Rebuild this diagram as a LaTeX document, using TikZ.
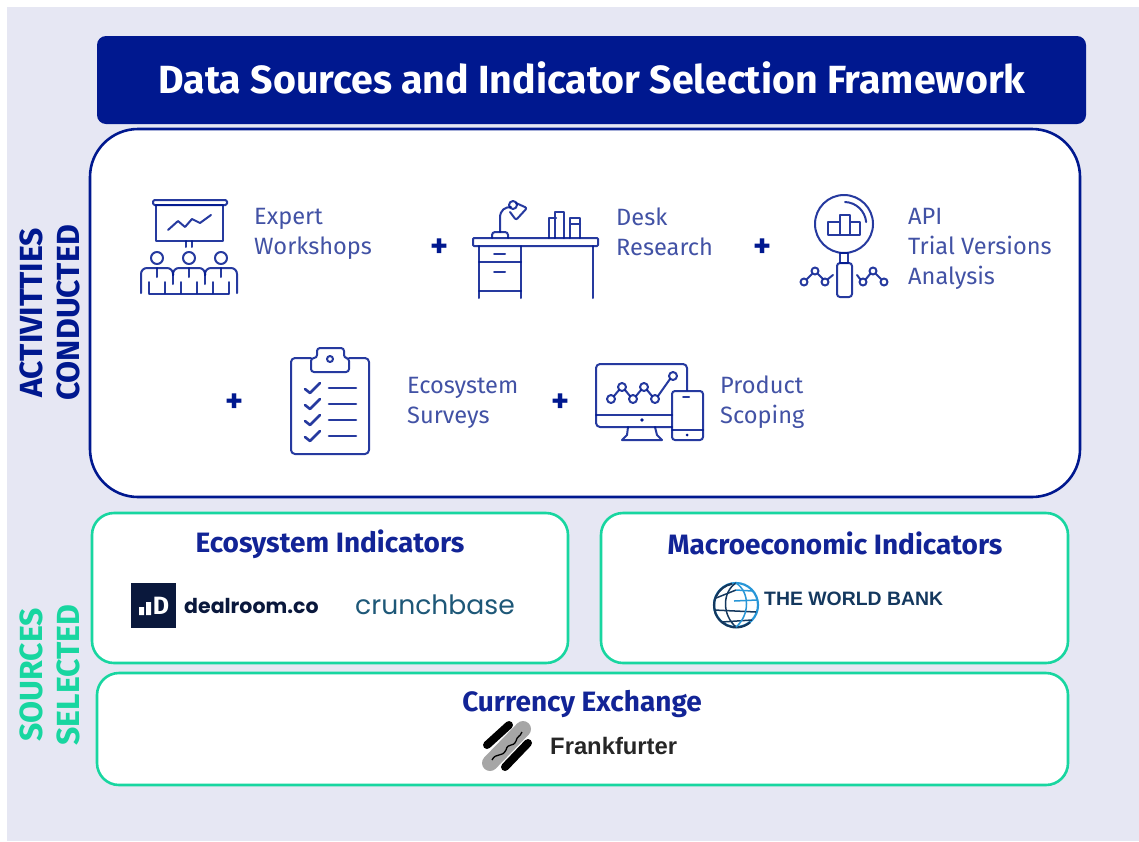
\documentclass[tikz,border=0pt]{standalone}
\usepackage{fontspec}
\usepackage{xcolor}
\setmainfont{Fira Sans}
\newfontfamily\logofont{Poppins}
\newfontfamily\bankfont{Liberation Sans}
\definecolor{navy}{RGB}{0,24,143}
\definecolor{headnavy}{RGB}{18,36,150}
\definecolor{softnavy}{RGB}{66,82,165}
\definecolor{mint}{RGB}{24,214,160}
\definecolor{lavender}{RGB}{230,231,243}
\definecolor{dealink}{RGB}{10,24,60}
\definecolor{crunch}{RGB}{30,88,120}
\definecolor{bankblue}{RGB}{20,56,94}
\definecolor{globeblue}{RGB}{40,150,215}
\tikzset{
  panel/.style={draw=navy,line width=2.6pt,fill=white,rounded corners=48pt},
  srcbox/.style={draw=mint,line width=2.6pt,fill=white,rounded corners=22pt},
  boxhead/.style={text=headnavy,font=\bfseries\fontsize{28}{32}\selectfont,inner sep=0pt},
  sidelabel/.style={rotate=90,align=center,font=\bfseries\fontsize{32}{37}\selectfont,inner sep=0pt},
  actlabel/.style={text=softnavy,align=left,anchor=west,inner sep=0pt,font=\fontsize{23.6}{30}\selectfont},
  plus/.style={text=navy,font=\bfseries\fontsize{34}{34}\selectfont,inner sep=0pt},
  icon/.style={draw=navy,line width=2pt,line cap=round,line join=round,opacity=.85},
}
\begin{document}
\begin{tikzpicture}[x=1pt,y=-1pt]
\useasboundingbox (0,0) rectangle (1139,841);
\fill[lavender] (7,7) rectangle (1139,841);

\node[fill=navy,rounded corners=9pt,minimum width=989pt,minimum height=88pt,inner sep=0pt] (title) at (591.5,80) {};
\node[text=white,inner sep=0pt,font=\bfseries\fontsize{39.3}{42}\selectfont] (titletext) at (592,78) {Data Sources and Indicator Selection Framework};
\node[panel,minimum width=990pt,minimum height=368pt] (activities) at (585,313) {};
\node[srcbox,minimum width=476pt,minimum height=150pt] (ecobox) at (330,588) {};
\node[srcbox,minimum width=467pt,minimum height=150pt] (macrobox) at (834.5,588) {};
\node[srcbox,minimum width=971pt,minimum height=112pt] (fxbox) at (582.5,729) {};

\node[sidelabel,text=navy] (actside) at (50,313) {ACTIVITTIES\\CONDUCTED};
\node[sidelabel,text=mint] (srcside) at (50,675) {SOURCES\\SELECTED};

\node[actlabel] (expert) at (254,234) {Expert\\Workshops};
\node[actlabel] (desk) at (616,231.5) {Desk\\Research};
\node[actlabel] (api) at (908,248.5) {API\\Trial Versions\\Analysis};
\node[actlabel] (survey) at (407,403) {Ecosystem\\Surveys};
\node[actlabel] (scoping) at (720,402.5) {Product\\Scoping};
\node[plus] (plusa) at (440,248) {+};
\node[plus] (plusb) at (763,248) {+};
\node[plus] (plusc) at (235,403) {+};
\node[plus] (plusd) at (561,403) {+};

\node[boxhead] (ecohead) at (330,544) {Ecosystem Indicators};
\node[boxhead] (macrohead) at (835,543) {Macroeconomic Indicators};
\node[boxhead] (fxhead) at (582,704) {Currency Exchange};

% workshop icon
\draw[icon,rounded corners=1.5pt] (153,200) rectangle (227,205);
\draw[icon] (156,205) rectangle (223,241);
\draw[icon] (168,230) -- (178,221) -- (185,227) -- (192,219) -- (200,223) -- (211,215);
\draw[icon] (186,241) -- (186,247) (192,241) -- (192,247);
\foreach \hx in {157,189,221} {
  \draw[icon] (\hx,258) circle (6pt);
  \draw[icon] (\hx-8,293) -- (\hx-8,282) (\hx+8,293) -- (\hx+8,282);
  \draw[icon] (\hx,268) -- (\hx,277);
}
\draw[icon,rounded corners=6pt] (141,293) -- (141,268) -- (173,268) -- (173,275);
\draw[icon,rounded corners=6pt] (173,275) -- (173,268) -- (205,268) -- (205,275);
\draw[icon,rounded corners=6pt] (205,275) -- (205,268) -- (237,268) -- (237,293);
\draw[icon] (149,294) -- (229,294);
\draw[icon] (173,275) -- (173,284) (205,275) -- (205,284);

% desk icon
\draw[icon,rounded corners=1pt] (473,238) rectangle (598,246);
\draw[icon] (479,246) -- (479,298) (521,246) -- (521,298) (593,246) -- (593,298);
\draw[icon] (479,262) -- (521,262) (479,291) -- (521,291);
\draw[icon] (494,254) -- (505,254) (494,272) -- (505,272);
\draw[icon,rounded corners=3pt] (492,238) -- (492,232) -- (508,232) -- (508,238);
\draw[icon] (500,232) -- (500,218) .. controls (500,210) and (505,207) .. (511,207);
\draw[icon] (513,205) circle (4pt);
\draw[icon,rounded corners=2pt] (516,203) -- (527,208) -- (516,220) -- (510,212);
\draw[icon] (549,238) -- (549,218) -- (556,218) (555,238) -- (555,212) -- (564,212) -- (564,238);
\draw[icon] (570,238) -- (570,218) -- (580,218) -- (580,238) (570,224) -- (580,224);

% magnifier icon
\draw[icon] (844,224) circle (29pt);
\draw[icon] (845,202) arc[start angle=88,end angle=5,radius=22pt];
\draw[icon] (828,222) rectangle (840,235) (840,215) rectangle (850,235) (850,222) rectangle (860,235);
\draw[icon] (840,253) rectangle (848,263);
\draw[icon,rounded corners=3pt] (837,263) rectangle (852,297);
\foreach \cx/\cy in {804/282,815/271,825/282,863/282,873/271,884/282}
  \draw[icon] (\cx,\cy) circle (3.5pt);
\draw[icon] (807,279) -- (812,274) (818,274) -- (823,279) (828,279) -- (833,275);
\draw[icon] (860,279) -- (857,275) (866,279) -- (870,274) (876,274) -- (881,279);

% clipboard icon
\draw[icon,rounded corners=4pt] (311,358) -- (291,358) -- (291,454) -- (369,454) -- (369,358) -- (349,358);
\draw[icon,rounded corners=3pt] (311,358) -- (311,372) -- (349,372) -- (349,358) -- (344,358) -- (344,348) -- (317,348) -- (317,358) -- cycle;
\draw[icon] (330,359) circle (3pt);
\foreach \ly in {388,404,420,436} {
  \draw[icon,line width=2.6pt] (305,\ly+1) -- (310,\ly+5) -- (320,\ly-5);
  \draw[icon,line width=2.6pt] (329,\ly) -- (356,\ly);
}

% screens icon
\draw[icon,rounded corners=4pt] (672,427) -- (596,427) -- (596,364) -- (687,364) -- (687,390);
\draw[icon] (596,415) -- (672,415);
\fill[navy] (642,420) circle (1.8pt);
\draw[icon] (628,427) -- (627,435) -- (622,440) -- (662,440) -- (657,435) -- (655,427);
\foreach \cx/\cy in {611/399,622/387,633/399,644/387,655/399,673/376}
  \draw[icon] (\cx,\cy) circle (4pt);
\draw[icon] (614,396) -- (619,390) (625,390) -- (630,396) (636,396) -- (641,390) (647,390) -- (652,396) (658,396) -- (670,379);
\draw[icon,rounded corners=3pt] (672,391) rectangle (703,440);
\draw[icon] (683,397) -- (689,397) (672,430) -- (703,430);
\fill[navy] (687,435) circle (1.5pt);

% dealroom logo
\fill[dealink] (131,583) rectangle (176,628);
\fill[white] (139,607) rectangle (144,615) (146,602) rectangle (151,615);
\node[text=white,inner sep=0pt,font=\bfseries\fontsize{25}{25}\selectfont] (dealmark) at (161,606) {D};
\node[text=dealink,anchor=west,inner sep=0pt,font=\logofont\bfseries\fontsize{20.5}{24}\selectfont] (dealroom) at (184,606) {dealroom.co};
\node[text=crunch,anchor=west,inner sep=0pt,font=\logofont\fontsize{26.6}{30}\selectfont] (crunchbase) at (355,605) {crunchbase};

% world bank logo
\begin{scope}[line width=2.2pt]
\draw[globeblue] (736,605) circle (22pt);
\draw[bankblue] (718,618) arc[start angle=215,end angle=100,radius=22pt];
\draw[bankblue] (718,618) arc[start angle=215,end angle=310,radius=22pt];
\end{scope}
\begin{scope}[line width=1.5pt]
\draw[bankblue] (716,598) -- (736,590) (714,610) -- (756,612) (722,622) -- (752,620);
\draw[bankblue] (736,583) .. controls (722,592) and (722,615) .. (736,627);
\draw[globeblue] (736,583) .. controls (750,592) and (750,615) .. (736,627);
\draw[globeblue] (736,590) -- (752,591) (734,601) -- (757,600);
\end{scope}
\node[text=bankblue,anchor=west,inner sep=0pt,font=\bankfont\bfseries\fontsize{19.4}{22}\selectfont] (worldbank) at (764,599) {THE WORLD BANK};

% frankfurter logo
\draw[black!35,line width=16pt,line cap=round] (490,763) -- (523,729);
\draw[black,line width=8pt,line cap=round] (487,745) -- (509,725) (505,767) -- (528,743);
\draw[black,line width=1.3pt] (492,760) .. controls (496,752) and (502,758) .. (506,750) .. controls (508,742) and (513,748) .. (516,741) .. controls (517,736) and (520,737) .. (522,732);
\node[text=black!85,anchor=west,inner sep=0pt,font=\bankfont\bfseries\fontsize{23.8}{26}\selectfont] (frankfurter) at (550,746) {Frankfurter};
\end{tikzpicture}
\end{document}
